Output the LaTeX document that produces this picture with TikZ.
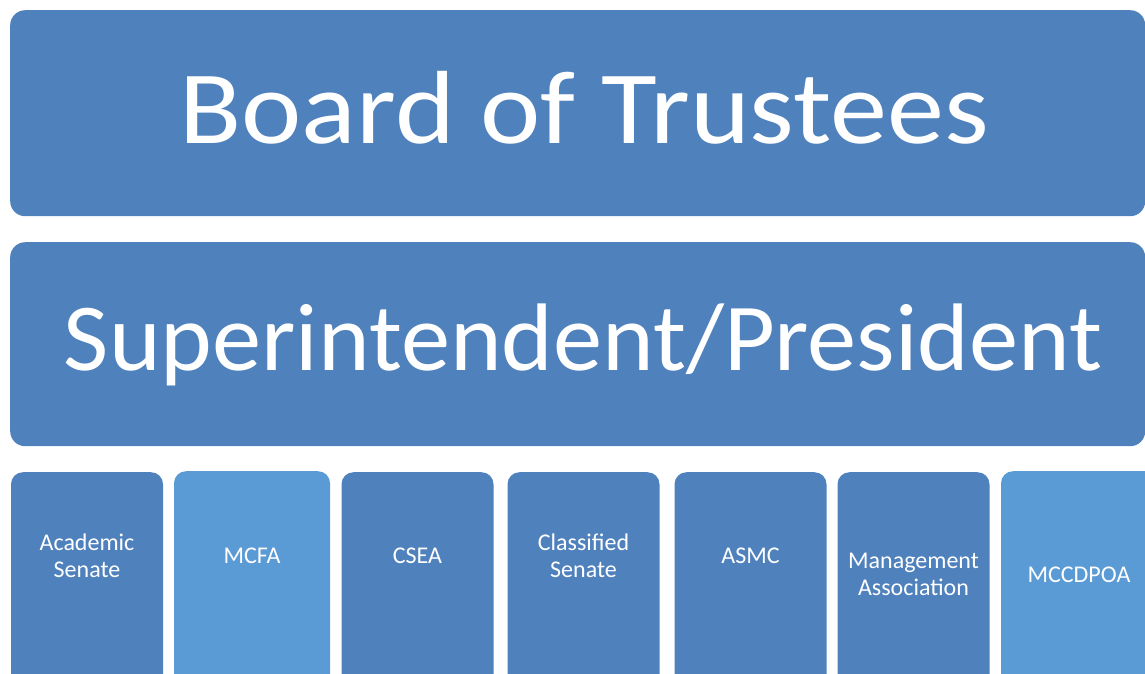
\documentclass[tikz,border=0pt]{standalone}
\usepackage{fontspec}
\setmainfont{Carlito}
\newfontfamily\boardfont[FakeStretch=1.098]{Carlito}
\newfontfamily\presfont[FakeStretch=1.025]{Carlito}
\usepackage{tikz}
\definecolor{boxblue}{RGB}{79,129,189}
\definecolor{boxlight}{RGB}{91,155,213}

\begin{document}
\begin{tikzpicture} [x=1pt,y=-1pt,
       bigbox/.style={fill=boxblue,text=white,rounded corners=15pt,inner sep=0pt,anchor=north west,minimum width=1135pt},
       unionbox/.style={fill=boxblue,text=white,rounded corners=12pt,inner sep=0pt,anchor=north,text width=152pt,align=center,font=\fontsize{24}{27}\selectfont},
       lightbox/.style={unionbox,fill=boxlight,text width=156pt}]
       \useasboundingbox (0,0) rectangle (1145,673);
       \clip (0,0) rectangle (1145,673);
       \node [bigbox,text height=133pt,text depth=73pt,font=\boardfont\fontsize{104}{120}\selectfont] (board) at (10,10) {\hspace*{13pt}Board of Trustees};
       \node [bigbox,text height=128pt,text depth=76pt,font=\presfont\fontsize{96}{110}\selectfont] (president) at (10,242) {\hspace*{11pt}Superintendent/President};
       \node [unionbox,text height=78pt,text depth=170pt] (academic) at (87,472) {Academic\\Senate};
       \node [lightbox,text height=92pt,text depth=160pt] (mcfa) at (252,471) {MCFA};
       \node [unionbox,text height=91pt,text depth=160pt] (csea) at (417.5,472) {CSEA};
       \node [unionbox,text height=78pt,text depth=170pt] (classified) at (583.5,472) {Classified\\Senate};
       \node [unionbox,text height=91pt,text depth=160pt] (asmc) at (750.5,472) {ASMC};
       \node [unionbox,text height=96pt,text depth=160pt] (management) at (913.5,472) {Management\\Association};
       \node [lightbox,text height=111pt,text depth=140pt] (mccdpoa) at (1079,471) {MCCDPOA};
    \end{tikzpicture}
\end{document}
